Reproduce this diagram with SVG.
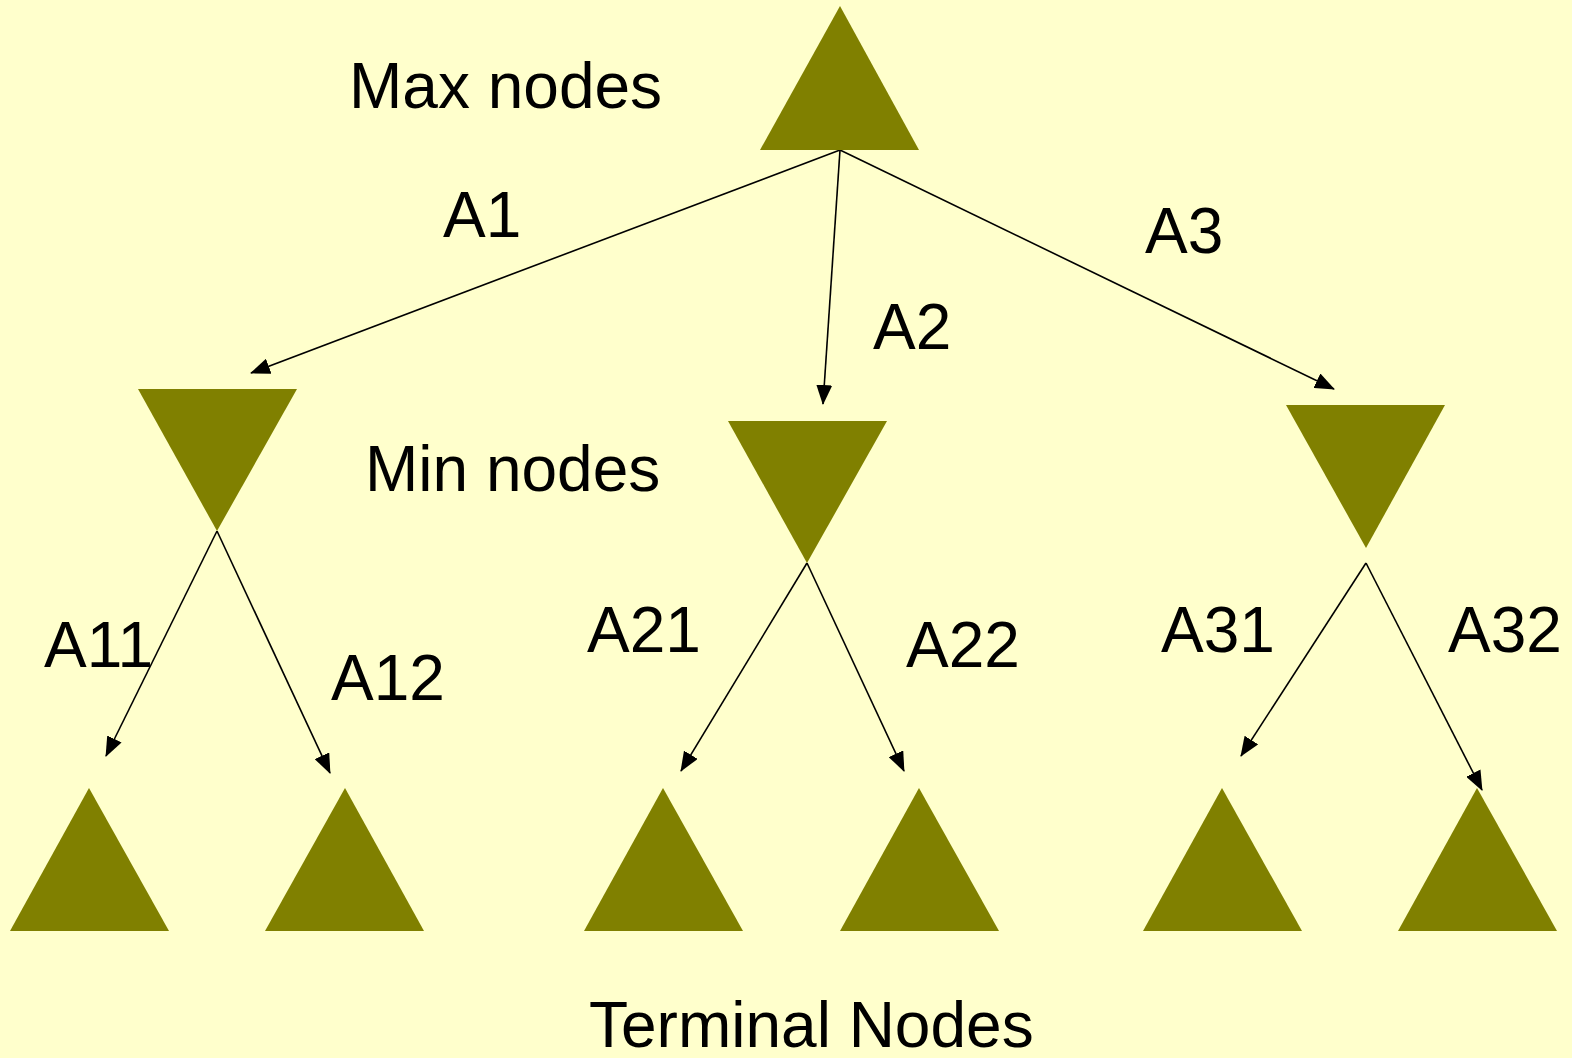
<svg xmlns="http://www.w3.org/2000/svg" width="1572" height="1058" viewBox="0 0 1572 1058">
<style>
.n{fill:#808000}
.t{font-family:"Liberation Sans",Arial,sans-serif;font-size:64px;fill:#000}
.e{stroke:#000;stroke-width:1.6;fill:none;marker-end:url(#ah)}
</style>
<defs>
<marker id="ah" markerWidth="20" markerHeight="16" refX="19" refY="8" orient="auto" markerUnits="userSpaceOnUse" viewBox="0 0 20 16">
<path d="M0,0 L20,8 L0,16 Z" fill="#000"/>
</marker>
</defs>
<rect width="1572" height="1058" fill="#FFFFCC"/>
<g id="connectors">
<line class="e" x1="840" y1="150" x2="251" y2="373"/>
<line class="e" x1="840" y1="150" x2="823" y2="404"/>
<line class="e" x1="840" y1="150" x2="1334" y2="389"/>
<line class="e" x1="217" y1="531" x2="106" y2="756"/>
<line class="e" x1="217" y1="531" x2="330" y2="773"/>
<line class="e" x1="807" y1="563" x2="681" y2="771"/>
<line class="e" x1="807" y1="563" x2="904" y2="771"/>
<line class="e" x1="1366" y1="563" x2="1241" y2="756"/>
<line class="e" x1="1366" y1="563" x2="1482" y2="790"/>
</g>
<g id="max"><polygon class="n" points="840,6 919,150 760,150"/></g>
<g id="min1"><polygon class="n" points="138,389 297,389 217,531"/></g>
<g id="min2"><polygon class="n" points="728,421 887,421 807,563"/></g>
<g id="min3"><polygon class="n" points="1286,405 1445,405 1366,548"/></g>
<g id="t11"><polygon class="n" points="89,788 169,931 10,931"/></g>
<g id="t12"><polygon class="n" points="345,788 424,931 265,931"/></g>
<g id="t21"><polygon class="n" points="663,788 743,931 584,931"/></g>
<g id="t22"><polygon class="n" points="919,788 999,931 840,931"/></g>
<g id="t31"><polygon class="n" points="1222,788 1302,931 1143,931"/></g>
<g id="t32"><polygon class="n" points="1477,788 1557,931 1398,931"/></g>
<g id="labels">
<text class="t" x="349" y="108">Max nodes</text>
<text class="t" x="443" y="237">A1</text>
<text class="t" x="873" y="349">A2</text>
<text class="t" x="1145" y="253">A3</text>
<text class="t" x="365" y="491">Min nodes</text>
<text class="t" x="44" y="667">A11</text>
<text class="t" x="331" y="700">A12</text>
<text class="t" x="587" y="652">A21</text>
<text class="t" x="906" y="667">A22</text>
<text class="t" x="1161" y="652">A31</text>
<text class="t" x="1448" y="652">A32</text>
<text class="t" x="589" y="1047">Terminal Nodes</text>
</g>
</svg>
